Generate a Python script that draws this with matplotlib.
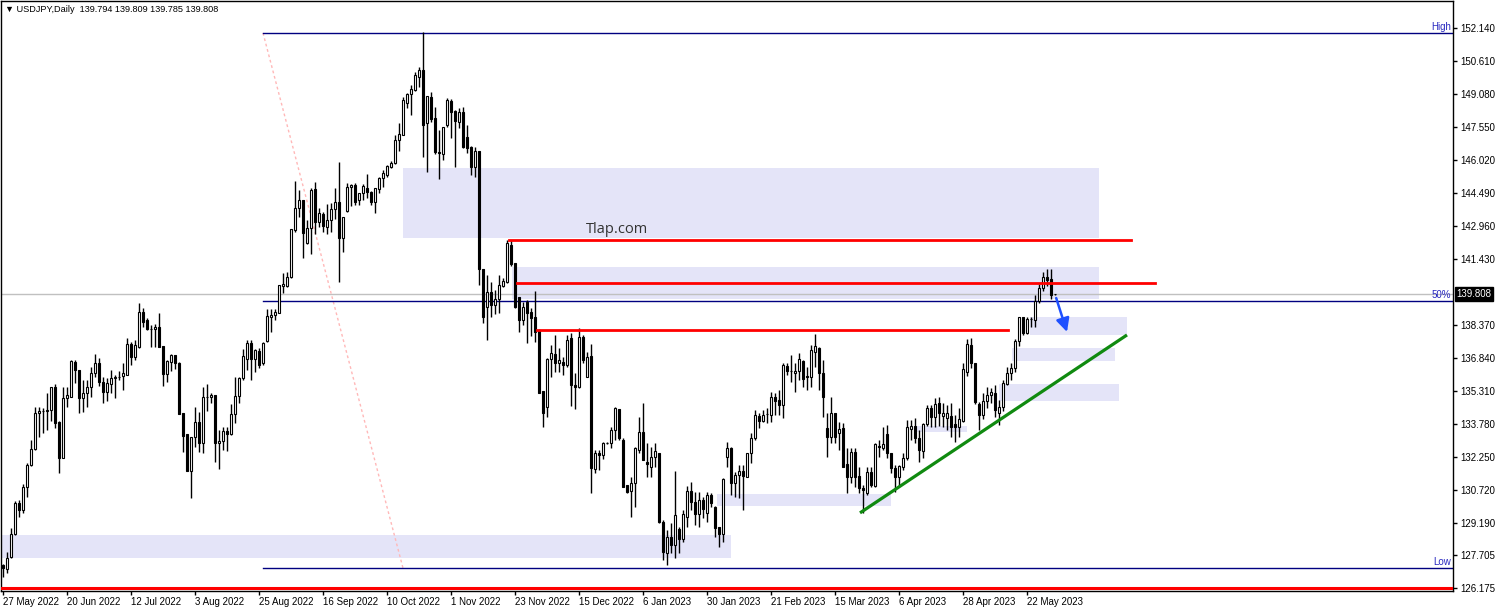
import matplotlib
matplotlib.use("Agg")
import matplotlib.pyplot as plt
from matplotlib.patches import Rectangle

# ---------------- data ----------------
date_labels = ["27 May 2022", "20 Jun 2022", "12 Jul 2022", "3 Aug 2022", "25 Aug 2022",
               "16 Sep 2022", "10 Oct 2022", "1 Nov 2022", "23 Nov 2022", "15 Dec 2022",
               "6 Jan 2023", "30 Jan 2023", "21 Feb 2023", "15 Mar 2023", "6 Apr 2023",
               "28 Apr 2023", "22 May 2023"]
date_label_bars = [0, 16, 32, 48, 64, 80, 96, 112, 128, 144, 160, 176, 192, 208, 224, 240, 256]

price_ticks = [152.140, 150.610, 149.080, 147.550, 146.020, 144.490, 142.960, 141.430,
               138.370, 136.840, 135.310, 133.780, 132.250, 130.720, 129.190, 127.705, 126.175]

opens = [127.25, 127.04, 127.60, 128.67, 130.10, 129.80, 130.88, 131.87, 132.61, 134.28,
         134.38, 134.40, 134.45, 135.48, 133.87, 132.22, 134.97, 135.05, 136.66, 136.29,
         134.97, 135.20, 135.48, 136.13, 136.60, 135.75, 135.28, 135.64, 135.90, 135.98,
         136.02, 136.06, 137.48, 136.87, 137.37, 138.96, 138.60, 138.19, 138.19, 138.30,
         137.40, 136.10, 136.67, 136.98, 136.63, 134.28, 133.32, 131.62, 133.17, 133.86,
         132.89, 135.02, 135.02, 135.11, 132.89, 133.01, 133.47, 133.32, 134.25, 135.08,
         135.90, 136.78, 137.55, 136.78, 137.18, 136.60, 137.64, 138.73, 138.82, 138.94,
         140.20, 140.17, 140.58, 142.77, 143.78, 144.16, 142.16, 142.85, 144.66, 143.16,
         143.52, 142.93, 143.24, 143.73, 144.09, 142.39, 143.67, 144.75, 144.86, 144.16,
         144.47, 144.70, 144.55, 144.09, 144.66, 145.17, 145.33, 145.71, 145.87, 146.95,
         147.18, 148.65, 149.08, 149.27, 149.88, 150.19, 147.75, 148.96, 147.95, 146.41,
         146.30, 147.64, 148.77, 148.31, 147.80, 148.23, 147.07, 146.64, 145.71, 146.44,
         140.99, 139.19, 139.92, 139.30, 139.58, 140.20, 140.35, 142.08, 141.26, 139.65,
         138.60, 139.45, 138.99, 138.73, 138.14, 135.33, 134.56, 136.78, 137.03, 136.63,
         136.67, 136.52, 137.75, 135.59, 135.48, 137.83, 135.98, 136.94, 131.68, 132.46,
         132.35, 132.92, 132.92, 133.50, 134.46, 133.04, 130.95, 130.69, 131.03, 132.58,
         133.43, 132.00, 131.80, 132.24, 132.42, 129.25, 127.79, 128.53, 128.17, 128.90,
         128.44, 129.49, 130.69, 130.18, 129.61, 130.26, 129.64, 130.49, 129.95, 129.02,
         128.68, 132.23, 132.68, 131.03, 131.41, 131.60, 131.34, 132.42, 133.11, 134.15,
         133.93, 134.24, 134.20, 135.01, 134.89, 134.66, 136.47, 136.24, 136.13, 136.24,
         136.71, 136.00, 135.94, 137.10, 137.29, 136.13, 133.58, 133.19, 134.28, 133.35,
         133.58, 131.91, 131.31, 132.47, 131.37, 130.80, 130.57, 131.57, 130.91, 132.76,
         132.65, 133.30, 132.42, 131.76, 131.34, 131.80, 132.19, 133.53, 133.69, 133.12,
         132.55, 133.78, 134.51, 134.09, 134.77, 134.16, 134.05, 134.15, 133.78, 133.66,
         133.94, 136.20, 137.44, 136.63, 134.71, 134.20, 134.86, 135.13, 135.23, 134.31,
         134.58, 135.64, 136.13, 136.36, 137.65, 138.73, 137.99, 138.63, 138.60, 139.48,
         140.07, 140.58, 140.49, 139.794]
highs = [127.30, 127.86, 128.95, 130.23, 130.26, 131.00, 131.99, 133.04, 134.56, 134.59,
         134.50, 135.20, 135.50, 135.64, 133.90, 135.50, 135.48, 136.75, 136.75, 136.29,
         135.82, 135.82, 136.44, 137.03, 136.83, 135.98, 135.90, 136.29, 136.05, 136.26,
         136.60, 137.76, 137.60, 137.68, 139.41, 139.15, 138.68, 138.37, 138.40, 138.91,
         137.40, 136.75, 137.03, 136.98, 136.67, 134.31, 133.32, 133.20, 134.59, 134.36,
         135.51, 135.62, 135.20, 135.11, 133.50, 133.66, 133.66, 134.71, 135.98, 135.98,
         137.25, 137.68, 137.68, 137.25, 137.30, 137.60, 139.10, 139.10, 139.10, 140.22,
         140.80, 140.84, 142.80, 145.05, 144.63, 144.16, 143.24, 144.71, 144.98, 143.78,
         143.62, 143.98, 144.01, 144.71, 145.94, 143.39, 144.94, 144.91, 144.94, 144.50,
         144.89, 145.37, 144.60, 144.74, 145.25, 145.56, 145.79, 145.97, 147.18, 147.72,
         148.96, 149.14, 149.50, 150.12, 150.35, 151.97, 148.99, 149.19, 148.46, 147.41,
         147.56, 148.88, 148.83, 148.34, 148.41, 148.49, 147.64, 146.67, 146.64, 146.44,
         140.99, 140.69, 140.38, 139.99, 140.69, 140.54, 142.31, 142.31, 141.26, 139.65,
         139.45, 139.53, 139.14, 139.96, 138.17, 135.33, 136.83, 137.44, 137.91, 137.29,
         136.90, 137.91, 137.98, 136.13, 138.22, 137.91, 137.14, 137.49, 132.58, 132.58,
         132.96, 132.96, 133.63, 134.56, 134.46, 133.12, 130.95, 131.34, 132.73, 134.12,
         134.77, 132.89, 132.73, 132.89, 132.42, 129.33, 128.87, 129.18, 131.62, 129.02,
         129.79, 130.91, 131.11, 130.65, 130.65, 130.41, 130.65, 130.57, 129.98, 129.02,
         131.26, 132.96, 132.73, 131.57, 131.88, 131.88, 132.45, 133.35, 134.43, 134.27,
         134.43, 134.50, 135.28, 135.20, 135.35, 136.59, 136.62, 136.98, 136.59, 137.05,
         136.74, 136.44, 137.44, 137.95, 137.36, 136.75, 134.28, 135.05, 134.28, 133.89,
         133.81, 132.65, 132.65, 132.65, 131.80, 130.96, 131.80, 131.80, 132.89, 133.04,
         133.66, 133.74, 132.42, 131.88, 131.88, 132.42, 133.96, 133.97, 134.04, 133.50,
         133.81, 134.66, 134.66, 134.97, 135.05, 134.74, 134.66, 134.74, 134.20, 134.50,
         136.59, 137.70, 137.76, 136.63, 134.82, 135.20, 135.50, 135.44, 135.60, 134.90,
         135.80, 136.44, 136.60, 137.70, 138.76, 138.76, 138.76, 138.73, 139.74, 140.26,
         140.84, 140.95, 140.95, 139.809]
lows = [126.70, 126.86, 127.55, 128.64, 129.49, 129.64, 130.41, 131.84, 132.58, 133.20,
        133.38, 133.50, 133.90, 133.58, 131.50, 132.19, 134.56, 135.05, 135.70, 134.28,
        134.35, 134.59, 135.05, 135.98, 135.55, 134.74, 134.87, 135.20, 134.97, 135.82,
        135.36, 136.03, 136.52, 136.75, 137.29, 138.30, 138.14, 137.37, 137.37, 137.37,
        135.54, 135.75, 136.26, 136.32, 134.25, 132.50, 131.62, 130.37, 132.73, 132.50,
        132.45, 134.38, 134.74, 132.04, 131.71, 132.58, 132.55, 133.27, 133.81, 134.74,
        135.82, 136.29, 135.82, 136.21, 136.40, 136.50, 137.60, 138.06, 138.60, 138.91,
        139.84, 140.15, 140.55, 142.70, 143.39, 141.50, 142.13, 141.66, 142.60, 142.93,
        142.70, 142.60, 142.70, 143.30, 140.38, 141.77, 143.62, 143.89, 143.93, 143.93,
        144.16, 144.24, 143.93, 143.55, 144.47, 144.75, 145.25, 145.63, 145.82, 146.45,
        147.18, 148.41, 148.10, 149.23, 149.42, 146.17, 145.48, 147.80, 146.28, 145.12,
        146.02, 147.56, 147.02, 145.71, 147.49, 146.56, 146.33, 145.33, 145.22, 140.22,
        138.45, 137.68, 138.76, 138.88, 138.91, 140.15, 140.30, 141.11, 139.14, 138.06,
        138.37, 137.52, 137.86, 137.60, 135.20, 133.63, 134.12, 135.98, 136.21, 136.21,
        136.05, 136.44, 134.62, 134.46, 135.44, 136.60, 135.98, 130.57, 131.50, 131.65,
        132.14, 132.85, 132.65, 133.04, 133.04, 130.85, 130.57, 129.49, 129.95, 132.42,
        132.11, 131.34, 131.34, 131.80, 129.18, 127.48, 127.25, 127.79, 127.56, 127.79,
        128.33, 129.02, 129.80, 129.10, 129.02, 129.41, 129.25, 129.95, 128.56, 128.09,
        128.33, 131.80, 130.49, 130.41, 130.33, 129.79, 131.34, 131.96, 133.04, 133.58,
        133.89, 133.81, 133.89, 134.20, 134.20, 134.04, 136.05, 135.74, 135.28, 135.82,
        135.50, 135.35, 135.51, 136.44, 135.35, 134.12, 132.27, 132.89, 132.89, 132.58,
        131.80, 130.57, 131.03, 130.88, 130.57, 129.64, 130.49, 130.88, 130.88, 132.27,
        132.58, 132.19, 131.53, 130.65, 130.88, 131.65, 132.10, 133.04, 132.90, 132.00,
        132.20, 133.70, 133.66, 133.66, 133.70, 133.66, 133.50, 133.20, 132.96, 133.20,
        133.86, 136.00, 136.40, 134.70, 133.50, 134.00, 134.50, 134.74, 134.10, 133.74,
        134.40, 135.59, 135.80, 136.20, 137.40, 137.90, 137.95, 138.27, 138.27, 139.40,
        139.95, 140.20, 139.56, 139.785]
closes = [127.09, 127.55, 128.67, 130.10, 129.80, 130.85, 131.87, 132.61, 134.28, 134.38,
          134.40, 134.45, 135.48, 133.85, 132.22, 134.97, 135.11, 136.70, 136.29, 134.97,
          135.20, 135.48, 136.13, 136.60, 135.75, 135.28, 135.70, 135.90, 135.98, 135.98,
          136.13, 137.48, 136.87, 137.45, 138.99, 138.53, 138.19, 138.19, 138.30, 137.37,
          136.09, 136.70, 136.98, 136.60, 134.25, 133.24, 131.62, 133.20, 133.86, 132.89,
          135.02, 135.02, 135.11, 132.89, 133.01, 133.47, 133.32, 134.25, 135.08, 135.90,
          136.94, 137.55, 136.78, 137.20, 136.52, 137.55, 138.79, 138.85, 138.97, 140.22,
          140.27, 140.61, 142.80, 143.78, 144.16, 142.65, 142.85, 144.63, 143.16, 143.55,
          142.96, 143.24, 143.73, 144.09, 142.39, 143.36, 144.78, 144.86, 144.09, 144.47,
          144.83, 144.55, 144.09, 144.70, 145.17, 145.43, 145.74, 145.87, 146.95, 147.21,
          148.80, 149.08, 149.30, 149.96, 150.19, 147.64, 148.99, 147.90, 146.41, 146.33,
          147.53, 148.80, 148.26, 147.84, 148.23, 146.64, 146.56, 145.71, 146.44, 140.99,
          138.76, 139.92, 139.30, 139.58, 140.23, 140.41, 142.19, 141.20, 139.19, 138.60,
          139.19, 138.91, 138.68, 138.06, 135.23, 134.31, 136.78, 137.06, 136.63, 136.75,
          136.52, 137.68, 135.59, 135.48, 137.83, 136.75, 136.90, 131.73, 132.42, 132.35,
          132.92, 132.92, 133.50, 134.51, 133.12, 130.88, 130.65, 131.03, 132.65, 133.43,
          132.11, 131.93, 132.27, 132.54, 129.25, 127.86, 128.56, 128.17, 129.56, 128.44,
          129.59, 130.69, 130.18, 129.61, 130.26, 129.83, 130.49, 130.10, 128.94, 128.68,
          131.22, 132.65, 131.03, 131.41, 131.60, 131.37, 132.42, 133.11, 134.20, 133.93,
          134.20, 134.24, 135.01, 134.86, 134.66, 136.51, 136.25, 136.24, 136.24, 136.78,
          135.85, 135.94, 137.21, 137.39, 136.13, 135.05, 133.19, 134.28, 133.19, 133.55,
          131.80, 131.31, 132.47, 131.31, 130.80, 130.72, 131.57, 130.96, 132.85, 132.70,
          132.85, 132.42, 131.73, 131.34, 131.83, 132.19, 133.63, 133.69, 133.12, 132.58,
          133.77, 134.51, 134.09, 134.71, 134.28, 134.28, 134.31, 133.66, 133.66, 134.00,
          136.32, 137.49, 136.59, 134.82, 134.20, 134.86, 135.13, 135.28, 134.43, 134.58,
          135.67, 136.13, 136.36, 137.65, 138.73, 137.99, 138.63, 138.67, 139.48, 140.07,
          140.61, 140.46, 139.76, 139.808]

symbol_header = "USDJPY,Daily  139.794 139.809 139.785 139.808"
current_price = 139.808
fib_high, fib_low = 151.91, 127.10
watermark = "Tlap.com"

# ---------------- figure ----------------
W, H = 1499, 612
fig = plt.figure(figsize=(W / 100, H / 100), dpi=100)
fig.patch.set_facecolor("white")
ax = fig.add_axes([1 / W, 21 / H, 1452 / W, 590 / H])
ax.set_facecolor("white")
ax.set_xlim(-0.5, 362.5)
ax.set_ylim(126.039, 153.392)

FONT = ["Liberation Sans", "DejaVu Sans"]
LAV = "#E4E4F8"

# zones (lavender rectangles)
zones = [(-0.5, 182.0, 127.57, 128.64), (100.0, 274.0, 142.40, 145.65),
         (127.3, 274.0, 139.58, 141.06), (256.8, 281.0, 137.91, 138.74),
         (252.3, 278.0, 136.70, 137.30), (249.0, 279.0, 134.85, 135.64),
         (178.5, 222.0, 129.98, 130.54), (228.5, 241.0, 133.41, 133.69)]
for x0, x1, y0, y1 in zones:
    ax.add_patch(Rectangle((x0, y0), x1 - x0, y1 - y0, facecolor=LAV,
                           edgecolor="none", zorder=0.5))

# current price line
ax.axhline(current_price, color="#C0C0C0", lw=1, zorder=1)

# fibonacci
for lvl in (fib_high, (fib_high + fib_low) / 2, fib_low):
    ax.plot([65, 362.5], [lvl, lvl], color="#000080", lw=1, zorder=1.2)
ax.plot([65, 100], [fib_high, fib_low], color="#FFB8B8", lw=1,
        linestyle=(0, (2, 2)), zorder=1.1)
fib_col = "#2828C0"
ax.text(362, fib_high + 0.04, "High", ha="right", va="bottom", fontsize=7,
        color=fib_col, family=FONT)
ax.text(362, (fib_high + fib_low) / 2 + 0.04, "50%", ha="right", va="bottom",
        fontsize=7, color=fib_col, family=FONT)
ax.text(362, fib_low + 0.04, "Low", ha="right", va="bottom", fontsize=7,
        color=fib_col, family=FONT)

# red levels
ax.plot([126.5, 282], [142.31, 142.31], color="#FF0000", lw=2, zorder=4)
ax.plot([128.5, 288], [140.32, 140.32], color="#FF0000", lw=2, zorder=4)
ax.plot([133.5, 251.3], [138.16, 138.16], color="#FF0000", lw=2, zorder=4)
ax.plot([-0.5, 362.5], [126.18, 126.18], color="#FF0000", lw=2.2, zorder=4)

# candles
n = len(closes)
xs = list(range(n))
ax.vlines(xs, lows, highs, color="black", lw=1, zorder=2)
heights = [c - o for o, c in zip(opens, closes)]
fills = ["white" if c >= o else "black" for o, c in zip(opens, closes)]
ax.bar(xs, heights, bottom=opens, width=0.6, color=fills, edgecolor="black",
       linewidth=0.8, zorder=3)

# trend line and arrow
ax.plot([214.25, 281.0], [129.66, 137.91], color="#108A10", lw=2.3, zorder=5,
        solid_capstyle="butt")
ax.annotate("", xy=(266.0, 138.05), xytext=(263.3, 139.62),
            arrowprops=dict(arrowstyle="-|>,head_length=0.8,head_width=0.4",
                            color="#1E50FF", lw=1.8, shrinkA=0, shrinkB=0),
            zorder=6)

# watermark text
ax.text(153.5, 142.82, watermark, ha="center", va="center", fontsize=10.5,
        color="#333333", family=["Open Sans", "DejaVu Sans"])

# axes styling
for s in ax.spines.values():
    s.set_color("black")
    s.set_linewidth(1)
ax.yaxis.tick_right()
ax.set_yticks(price_ticks)
ax.set_yticklabels([f"{p:.3f}" for p in price_ticks])
ax.tick_params(axis="y", direction="out", length=3, width=1, pad=2,
               labelsize=7, colors="black")
ax.set_xticks(date_label_bars)
ax.set_xticklabels(date_labels)
ax.tick_params(axis="x", direction="out", length=3, width=1, pad=1.5,
               labelsize=7, colors="black")
for lbl in ax.get_xticklabels() + ax.get_yticklabels():
    lbl.set_family(FONT)
for lbl in ax.get_xticklabels():
    lbl.set_ha("left")

# current price badge
ax.annotate(f"{current_price:.3f}", xy=(1.0, current_price),
            xycoords=("axes fraction", "data"), xytext=(2.5, 0),
            textcoords="offset points", ha="left", va="center", fontsize=7,
            color="white", family=FONT,
            bbox=dict(boxstyle="square,pad=0.2", fc="black", ec="black"),
            annotation_clip=False)

# header
fig.text(5 / W, 1 - 9 / H, "\u25BC " + symbol_header, ha="left", va="center",
         fontsize=6.6, color="black", family=FONT)

fig.savefig("out.png", dpi=100, facecolor="white")
